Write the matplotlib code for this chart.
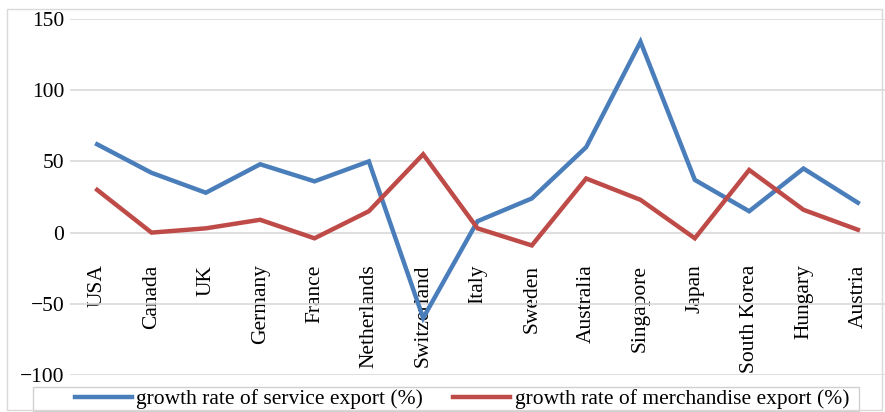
import matplotlib
matplotlib.use("Agg")
from matplotlib import pyplot as plt
from matplotlib.patches import Rectangle

countries = ['USA', 'Canada', 'UK', 'Germany', 'France', 'Netherlands', 'Switzerland',
             'Italy', 'Sweden', 'Australia', 'Singapore', 'Japan', 'South Korea',
             'Hungary', 'Austria']
service_growth = [62, 42, 28, 48, 36, 50, -60, 8, 24, 60, 134, 37, 15, 45, 21]
merchandise_growth = [30, 0, 3, 9, -4, 15, 55, 3, -9, 38, 23, -4, 44, 16, 2]

plt.rcParams['font.family'] = ['Liberation Serif', 'DejaVu Serif']
plt.rcParams['font.size'] = 15.5

fig = plt.figure(figsize=(8.85, 4.12), dpi=100)
ax = fig.add_axes([70 / 885, 1 - 375 / 412, 815 / 885, 356 / 412])

x = range(len(countries))
ax.plot(x, service_growth, color='#4a7ebb', lw=3.2, solid_joinstyle='miter',
        label='growth rate of service export (%)')
ax.plot(x, merchandise_growth, color='#be4b48', lw=3.2, solid_joinstyle='miter',
        label='growth rate of merchandise export (%)')

ax.set_xlim(-0.5, 14.5)
ax.set_ylim(-100, 150)
ax.set_yticks([-100, -50, 0, 50, 100, 150])
ax.set_yticklabels(['\u2212100', '\u221250', '0', '50', '100', '150'])
ax.grid(axis='y', color='#d9d9d9', lw=1.2)
ax.set_axisbelow(True)
for s in ax.spines.values():
    s.set_visible(False)
ax.tick_params(axis='y', length=0, pad=4)

# category labels sit just under the zero line
ax.spines['bottom'].set_position(('data', 0))
ax.set_xticks(list(x))
ax.set_xticklabels(countries, rotation=90, va='top', ha='center')
ax.tick_params(axis='x', length=0, pad=23)

# legend entries, with a plain box drawn around them separately
fig.legend(loc='center', bbox_to_anchor=(462 / 885, 1 - 399 / 412), ncol=2,
           frameon=False, handlelength=2.65, columnspacing=1.4,
           borderpad=0, handletextpad=0.2)
fig.patches.append(Rectangle((33 / 885, 1 - 411 / 412), 826 / 885, 24 / 412, fill=False,
                             edgecolor='#d0d0d0', lw=1, transform=fig.transFigure))

fig.patches.append(Rectangle((7 / 885, 2 / 412), 875 / 885, 401 / 412, fill=False,
                             edgecolor='#d9d9d9', lw=1, transform=fig.transFigure))

fig.savefig('out.png', dpi=100)
